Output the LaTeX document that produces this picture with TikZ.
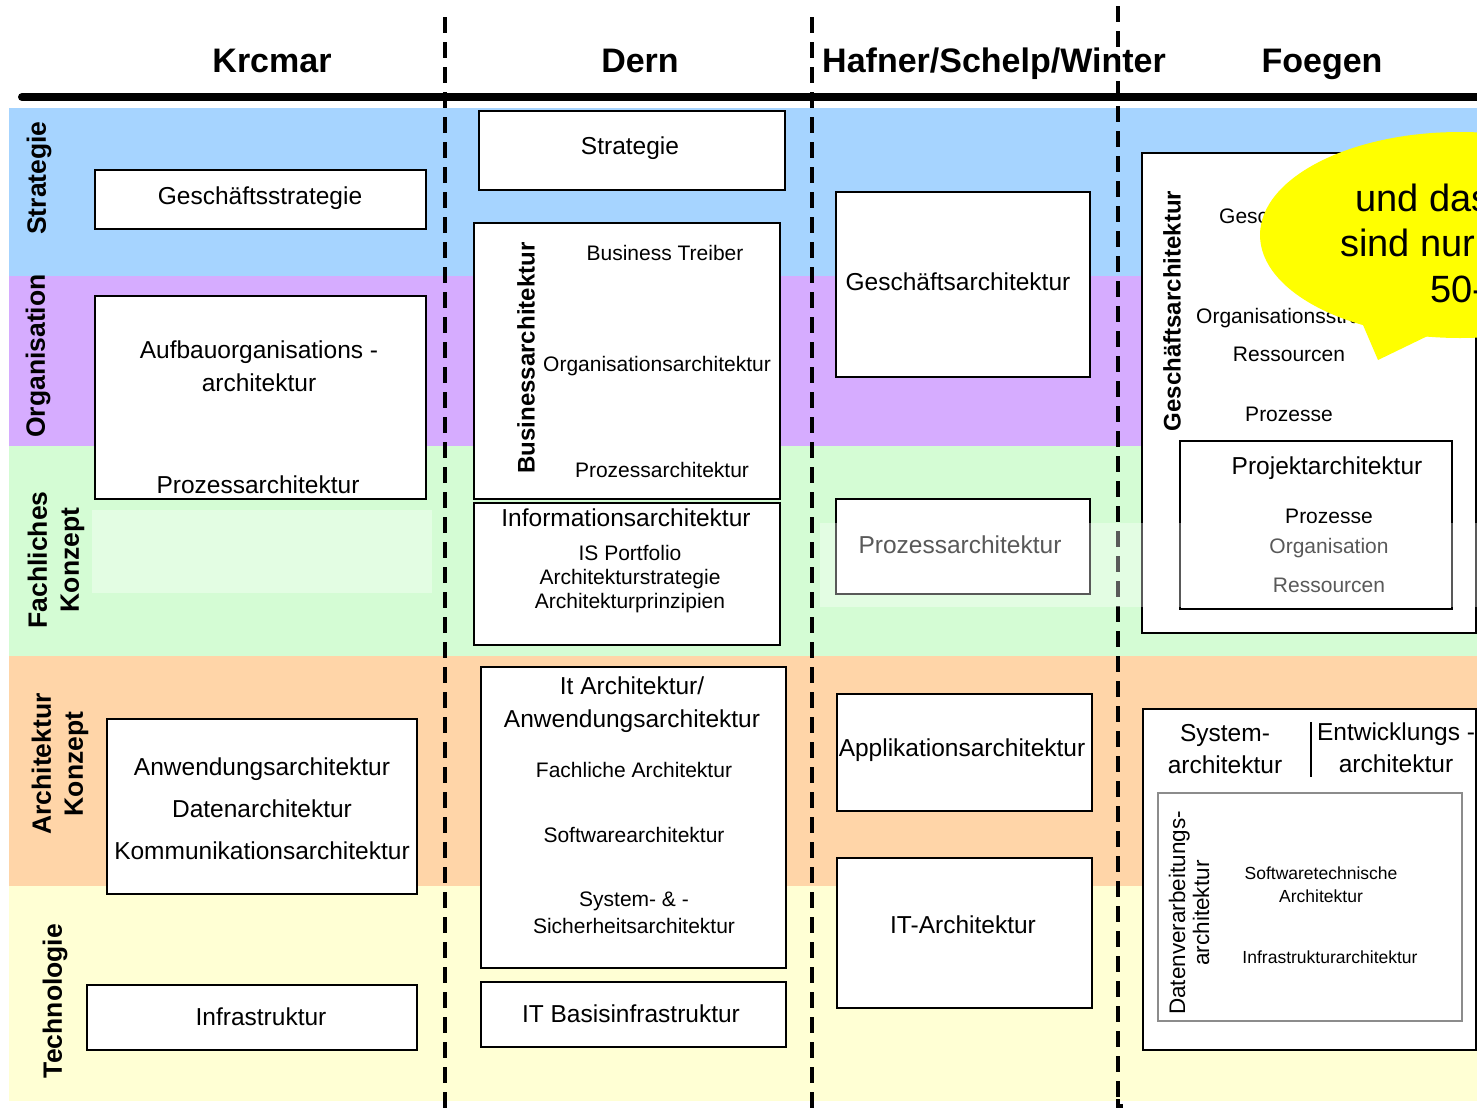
\documentclass[tikz,border=0pt]{standalone}
\usepackage{fontspec}
\setmainfont{Liberation Sans}
\newcommand\setfs[2]{\fontsize{#1}{#2}\selectfont}

\definecolor{bandblue}{RGB}{166,212,255}
\definecolor{bandviolet}{RGB}{214,172,255}
\definecolor{bandgreen}{RGB}{212,252,212}
\definecolor{bandorange}{RGB}{255,213,168}
\definecolor{bandyellow}{RGB}{255,255,212}
\definecolor{noteyellow}{RGB}{255,255,0}

\begin{document}
\begin{tikzpicture}[x=1pt,y=-1pt,
  box/.style={draw=black, line width=2pt, fill=white, inner sep=0pt},
  greybox/.style={draw=black!45, line width=2pt, fill=white, inner sep=0pt},
  txt/.style={font=\setfs{24.5}{33}, align=center, inner sep=0pt},
  thin/.style={font=\setfs{21}{24}, align=center, inner sep=0pt},
  small/.style={font=\setfs{17.5}{23}, align=center, inner sep=0pt},
  rowlabel/.style={font=\bfseries\setfs{26.5}{32}, rotate=90, align=center, inner sep=0pt},
  vlabel/.style={font=\bfseries\setfs{24}{28}, rotate=90, inner sep=0pt},
  heading/.style={font=\bfseries\setfs{34}{40}, anchor=base, inner sep=0pt},
  divider/.style={line width=3.2pt, dash pattern=on 16pt off 9pt},
  veil/.style={fill=white, fill opacity=0.35},
  note/.style={font=\setfs{38}{45}, anchor=west, inner sep=0pt},
]

\useasboundingbox (0,0) rectangle (1477,1114);
\clip (0,0) rectangle (1477,1114);

% ---- layer bands ----
\fill[bandblue]   (9,108) rectangle (1477,276);
\fill[bandviolet] (9,276) rectangle (1477,446);
\fill[bandgreen]  (9,446) rectangle (1477,656);
\fill[bandorange] (9,656) rectangle (1477,886);
\fill[bandyellow] (9,886) rectangle (1477,1101);

% ---- header ----
\coordinate (hl) at (22,97);
\coordinate (hr) at (1495,97);
\draw[line width=8pt, line cap=round] (hl) -- (hr);
\node[heading] (hKrcmar) at (272,72) {Krcmar};
\node[heading] (hDern)   at (640,72) {Dern};
\node[heading] (hHafner) at (994,72) {Hafner/Schelp/Winter};
\node[heading] (hFoegen) at (1322,72) {Foegen};

% ---- row labels ----
\node[rowlabel] (rStrat) at (39,178) {Strategie};
\node[rowlabel] (rOrg)   at (38,356) {Organisation};
\node[rowlabel] (rFach)  at (56,560) {Fachliches\\Konzept};
\node[rowlabel] (rArch)  at (60,764) {Architektur\\Konzept};
\node[rowlabel] (rTech)  at (55,1001) {Technologie};

% ---- Krcmar ----
\node[box, minimum width=331pt, minimum height=59pt] (kGs) at (260.5,199.5) {};
\node[txt] (kGsT) at (260,198) {Geschäftsstrategie};

\node[box, minimum width=331pt, minimum height=203pt] (kAuf) at (260.5,397.5) {};
\node[txt] (kAufT) at (259,366) {Aufbauorganisations -\\architektur};
\node[txt] (kProT) at (258,485) {Prozessarchitektur};

\node[box, minimum width=310pt, minimum height=175pt] (kAnw) at (262,806.5) {};
\node[txt, font=\setfs{24.5}{42}] (kAnwT) at (262,809) {Anwendungsarchitektur\\Datenarchitektur\\Kommunikationsarchitektur};

\node[box, minimum width=330pt, minimum height=65pt] (kInf) at (252,1017.5) {};
\node[txt] (kInfT) at (261,1017) {Infrastruktur};

% ---- Dern ----
\node[box, minimum width=306pt, minimum height=79pt] (dStrat) at (632,150.5) {};
\node[txt] (dStratT) at (630,148) {Strategie};

\node[box, minimum width=306pt, minimum height=276pt] (dBus) at (627,361) {};
\node[vlabel] (dBusL) at (526,358) {Businessarchitektur};
\node[thin] (dBusA) at (665,253) {Business Treiber};
\node[thin] (dBusB) at (657,366) {Organisationsarchitektur};
\node[thin] (dBusC) at (662,470) {Prozessarchitektur};

\node[box, minimum width=306pt, minimum height=142pt] (dInfo) at (627,574) {};
\node[txt] (dInfoT) at (626,518) {Informationsarchitektur};
\node[thin] (dInfoS) at (630,579) {IS Portfolio\\Architekturstrategie\\Architekturprinzipien};

\node[box, minimum width=305pt, minimum height=301pt] (dIt) at (633.5,817.5) {};
\node[txt] (dItT) at (632,705) {It Architektur/\\Anwendungsarchitektur};
\node[thin] (dItA) at (634,770) {Fachliche Architektur};
\node[thin] (dItB) at (634,835) {Softwarearchitektur};
\node[thin, font=\setfs{21}{27}] (dItC) at (634,913) {System- \& -\\Sicherheitsarchitektur};

\node[box, minimum width=305pt, minimum height=65pt] (dBasis) at (633.5,1014.5) {};
\node[txt] (dBasisT) at (631,1014) {IT Basisinfrastruktur};

% ---- Hafner/Schelp/Winter ----
\node[box, minimum width=254pt, minimum height=185pt] (hGa) at (963,284.5) {};
\node[txt] (hGaT) at (958,282) {Geschäftsarchitektur};
\node[box, minimum width=254pt, minimum height=95pt] (hPa) at (963,546.5) {};
\node[txt] (hPaT) at (960,545) {Prozessarchitektur};
\node[box, minimum width=255pt, minimum height=117pt] (hApp) at (964.5,752.5) {};
\node[txt] (hAppT) at (962,750) {Applikationsarchitektur};
\node[box, minimum width=255pt, minimum height=150pt] (hIt) at (964.5,933) {};
\node[txt] (hItT) at (963,925) {IT-Architektur};

% ---- Foegen ----
\node[box, minimum width=334pt, minimum height=480pt] (fGa) at (1309,393) {};
\node[vlabel] (fGaL) at (1172,311) {Geschäftsarchitektur};
\node[thin, anchor=west] (fGs) at (1219,218) {Geschäftsstrategie};
\node[thin, anchor=west] (fOrg) at (1196,318) {Organisationsstruktur};
\node[thin] (fRes) at (1289,354) {Ressourcen};
\node[thin] (fPro) at (1289,414) {Prozesse};

\node[box, minimum width=272pt, minimum height=168pt] (fProj) at (1316,525) {};
\node[txt] (fProjT) at (1327,468) {Projektarchitektur};
\node[thin] (fProjA) at (1329,516) {Prozesse};
\node[thin] (fProjB) at (1329,548) {Organisation};
\node[thin] (fProjC) at (1329,585) {Ressourcen};

\node[box, minimum width=333pt, minimum height=341pt] (fLow) at (1309.5,879.5) {};
\node[txt, font=\setfs{24.5}{32}] (fSys) at (1225,749) {System-\\architektur};
\node[txt, font=\setfs{24.5}{32}] (fEnt) at (1396,748) {Entwicklungs -\\architektur};
\coordinate (sepT) at (1311,722);
\coordinate (sepB) at (1311,777);
\draw[line width=1.5pt] (sepT) -- (sepB);

\node[greybox, minimum width=304pt, minimum height=228pt] (fDv) at (1310,907) {};
\node[thin, rotate=90, font=\setfs{22.5}{24}] (fDvL) at (1189,913) {Datenverarbeitungs-\\architektur};
\node[small] (fSw) at (1321,884.5) {Softwaretechnische\\Architektur};
\node[small] (fInf) at (1330,957) {Infrastrukturarchitektur};

% ---- column dividers ----
\coordinate (d1t) at (445,17);   \coordinate (d1b) at (445,1114);
\coordinate (d2t) at (812,17);   \coordinate (d2b) at (812,1114);
\coordinate (d3t) at (1118,6);   \coordinate (d3b) at (1118,1106);
\coordinate (d3e) at (1123,1106);
\draw[divider] (d1t) -- (d1b);
\draw[divider] (d2t) -- (d2b);
\draw[divider] (d3t) -- (d3b);
\draw[line width=3.2pt] (1118,1099) -- (d3b) -- (d3e);

% ---- translucent veils over the concept band ----
\fill[veil] (92,510) rectangle (432,593);
\fill[veil] (820,523) rectangle (1477,607);

% ---- speech bubble ----
\fill[noteyellow] (1460,235) ellipse [x radius=200, y radius=103];
\fill[noteyellow] (1360,318) -- (1378,360) -- (1440,330) -- cycle;
\node[note] (nA) at (1355,198) {und das};
\node[note] (nB) at (1340,243) {sind nur};
\node[note] (nC) at (1430,289) {50-};

\end{tikzpicture}
\end{document}
